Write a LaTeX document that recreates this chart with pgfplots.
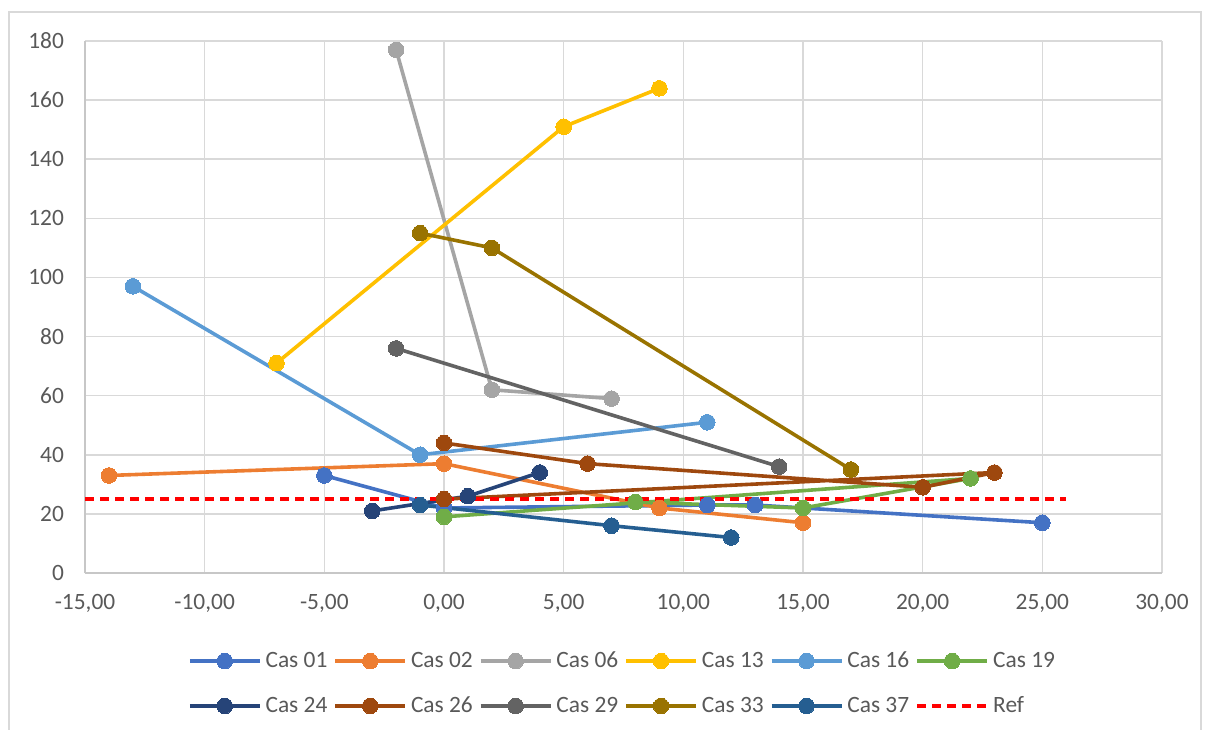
\documentclass[border=0pt]{standalone}
\usepackage{pgfplots}
\pgfplotsset{compat=1.18}
\usepackage{fontspec}
\setmainfont{Carlito}

\definecolor{c01}{HTML}{4472C4}
\definecolor{c02}{HTML}{ED7D31}
\definecolor{c06}{HTML}{A5A5A5}
\definecolor{c13}{HTML}{FFC000}
\definecolor{c16}{HTML}{5B9BD5}
\definecolor{c19}{HTML}{70AD47}
\definecolor{c24}{HTML}{264478}
\definecolor{c26}{HTML}{9E480E}
\definecolor{c29}{HTML}{636363}
\definecolor{c33}{HTML}{997300}
\definecolor{c37}{HTML}{255E91}
\definecolor{txt}{HTML}{595959}
\definecolor{gridc}{HTML}{D9D9D9}

\pgfplotsset{
  cas/.style={color=#1, line width=1.8pt, mark=*, mark size=3.9pt,
    mark options={fill=#1, draw=#1, line width=0pt}},
}

\begin{document}
\begin{tikzpicture}[font=\fontsize{11.7}{14}\selectfont]
\path[use as bounding box] (0,0) rectangle (604pt,364.5pt);
\draw[gridc, line width=0.8pt] (4.5pt,-5pt) -- (4.5pt,358.5pt) -- (600.5pt,358.5pt) -- (600.5pt,-5pt);
\begin{axis}[
    at={(42.5pt,78pt)}, anchor=south west,
    scale only axis,
    width=538.5pt, height=266pt,
    xmin=-15, xmax=30, ymin=0, ymax=180,
    xtick={-15,-10,...,30},
    xticklabels={{-15,00},{-10,00},{-5,00},{0,00},{5,00},{10,00},{15,00},{20,00},{25,00},{30,00}},
    ytick={0,20,...,180},
    axis lines=left,
    axis line style={-, draw=gridc!80!gray, line width=0.9pt},
    grid=major,
    major grid style={draw=gridc, line width=0.8pt},
    major tick length=0pt,
    tick label style={text=txt},
    yticklabel style={xshift=-7pt},
    xticklabel style={yshift=-7pt},
    /pgf/number format/assume math mode=true,
    legend columns=6,
    legend style={draw=none, fill=none, at={(0.5,-0.132)}, anchor=north,
      text=txt, row sep=9pt,
      /tikz/every even column/.append style={column sep=1pt}},
    legend cell align=left,
    legend image code/.code={\draw[mark repeat=2,mark phase=2] plot coordinates {(0pt,0pt) (17.5pt,0pt) (35pt,0pt)};},
]
\addplot[cas=c01] coordinates {(-5,33) (0,22) (11,23) (13,23) (25,17)};
\addlegendentry{Cas 01}
\addplot[cas=c02] coordinates {(-14,33) (0,37) (9,22) (15,17)};
\addlegendentry{Cas 02}
\addplot[cas=c06] coordinates {(-2,177) (2,62) (7,59)};
\addlegendentry{Cas 06}
\addplot[cas=c13] coordinates {(-7,71) (5,151) (9,164)};
\addlegendentry{Cas 13}
\addplot[cas=c16] coordinates {(-13,97) (-1,40) (11,51)};
\addlegendentry{Cas 16}
\addplot[cas=c19] coordinates {(0,19) (22,32) (15,22) (8,24)};
\addlegendentry{Cas 19}
\addplot[cas=c24] coordinates {(-3,21) (1,26) (4,34)};
\addlegendentry{Cas 24}
\addplot[cas=c26] coordinates {(0,44) (6,37) (20,29) (23,34) (0,25)};
\addlegendentry{Cas 26}
\addplot[cas=c29] coordinates {(-2,76) (14,36)};
\addlegendentry{Cas 29}
\addplot[cas=c33] coordinates {(-1,115) (2,110) (17,35)};
\addlegendentry{Cas 33}
\addplot[cas=c37] coordinates {(-1,23) (7,16) (12,12)};
\addlegendentry{Cas 37}
\addplot[red, line width=2pt, dash pattern=on 4.5pt off 3pt, no marks] coordinates {(-15,25) (26,25)};
\addlegendentry{Ref}
\end{axis}
\end{tikzpicture}
\end{document}
